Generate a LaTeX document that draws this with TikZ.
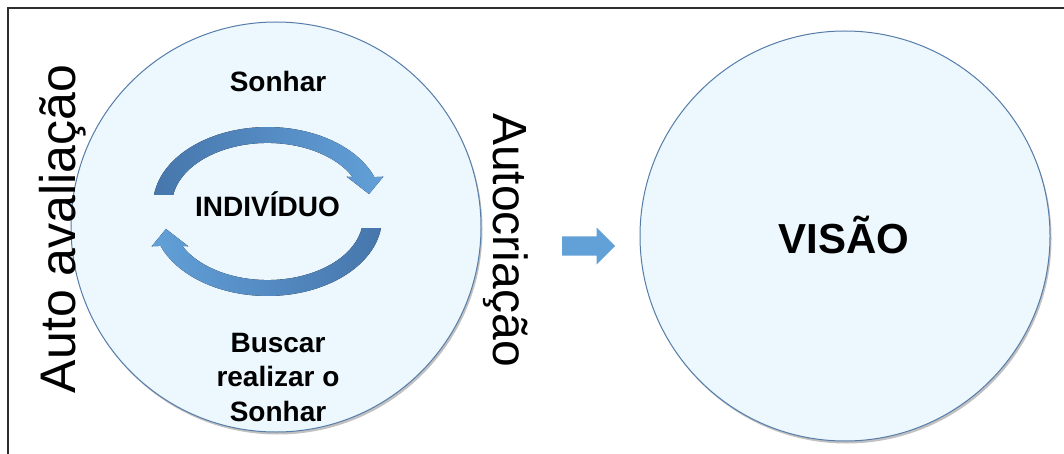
\documentclass[tikz,border=0pt]{standalone}
\usepackage{fontspec}
\setmainfont{Liberation Sans}
\usetikzlibrary{positioning,shapes.arrows,shadows}

\definecolor{ballfill}{RGB}{236,247,254}
\definecolor{balledge}{RGB}{86,124,168}
\definecolor{cycdark}{RGB}{70,118,172}
\definecolor{cyclight}{RGB}{98,160,216}
\definecolor{frameline}{RGB}{45,45,45}

\begin{document}
\begin{tikzpicture}[
  x=1pt,y=-1pt,
  ball/.style={circle,fill=ballfill,draw=balledge,line width=1pt,minimum size=410pt,
               inner sep=0pt,drop shadow={shadow xshift=1.5pt,shadow yshift=-2.5pt,
               opacity=0.35,fill=black!70}},
  lbl/.style={font=\bfseries\fontsize{28}{34.5}\selectfont,align=center,inner sep=0pt},
  side/.style={font=\fontsize{50}{60}\selectfont,inner sep=0pt,anchor=base},
  blk/.style={single arrow,fill=cyclight,inner xsep=0pt,inner ysep=9.5pt,
              single arrow head extend=9pt,minimum height=53pt,anchor=tail},
]
\useasboundingbox (0,0) rectangle (1064,454);

% ---- frame ----
\draw[frameline,line width=1.6pt] (8,460) -- (8,8) -- (1070,8);

% ---- the two circles ----
\node[ball] (self) at (276,227) {};
\node[ball] (vision) at (845,236) {};

% ---- cycle inside the left circle ----
\fill[left color=cycdark,right color=cyclight]
  (154,195) arc[start angle=172.6,end angle=21,x radius=114.5pt,y radius=78pt]
  -- (383.3,176.7) -- (369,194) -- (346.7,176.7) -- (352.7,177)
  arc[start angle=26.8,end angle=170.7,x radius=95.5pt,y radius=62pt] -- cycle;
\begin{scope}[rotate around={180:(267.5,211.5)}]
\fill[left color=cyclight,right color=cycdark]
  (154,195) arc[start angle=172.6,end angle=21,x radius=114.5pt,y radius=78pt]
  -- (383.3,176.7) -- (369,194) -- (346.7,176.7) -- (352.7,177)
  arc[start angle=26.8,end angle=170.7,x radius=95.5pt,y radius=62pt] -- cycle;
\end{scope}

% ---- labels ----
\node[lbl,anchor=base] (dream) at (278,91.7) {Sonhar};
\node[lbl,anchor=base] (person) at (267.5,217) {INDIVÍDUO};
\node[lbl] (seek) at (278,377.5) {Buscar\\realizar o\\Sonhar};
\node[lbl,anchor=base,font=\bfseries\fontsize{42}{50}\selectfont] (visionlbl) at (844,253) {VISÃO};

\node[side,rotate=90] (selfeval) at (75,229) {Auto avaliação};
\node[side,rotate=-90,font=\fontsize{48}{58}\selectfont] (selfmake) at (493,240) {Autocriação};

% ---- arrow to the vision ----
\node[blk] (step) at (562,246) {};
\end{tikzpicture}
\end{document}
